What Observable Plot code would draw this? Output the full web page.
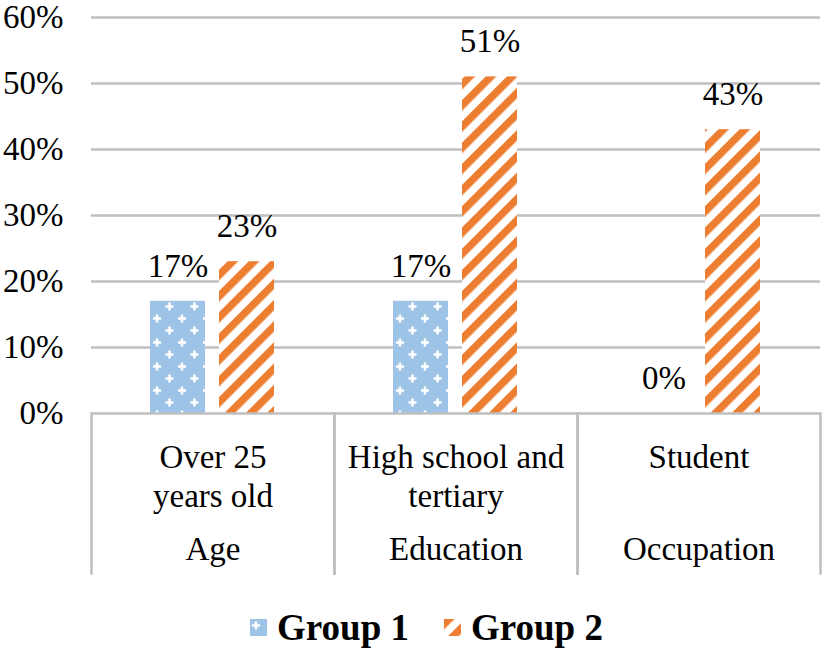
<!DOCTYPE html>
<html>
<head>
<meta charset="utf-8">
<script src="https://cdn.jsdelivr.net/npm/d3@7"></script>
<script src="https://cdn.jsdelivr.net/npm/@observablehq/plot@0.6"></script>
<style>
  html, body { margin: 0; padding: 0; background: #fff; }
  #chart svg, #chart svg text { font-family: "Liberation Serif", "Times New Roman", serif !important; }
  #legend { display: flex; justify-content: center; align-items: center; height: 74px; padding-left: 30px;
    font-family: "Liberation Serif", "Times New Roman", serif; font-weight: bold; font-size: 37px; color: #000; }
  #legend .item { display: flex; align-items: center; }
  #legend svg { margin-right: 10px; }
</style>
</head>
<body>
<svg width="0" height="0" style="position:absolute">
  <defs>
    <pattern id="pat-plus" patternUnits="userSpaceOnUse" width="25" height="24">
      <rect width="25" height="24" fill="#9DC3E6"></rect>
      <path d="M2,6.5h8M6,2.5v8M14.5,18.5h8M18.5,14.5v8" stroke="#fff" stroke-width="2.6" fill="none"></path>
    </pattern>
    <pattern id="pat-diag" patternUnits="userSpaceOnUse" width="15" height="15" patternTransform="rotate(45)">
      <rect width="15" height="15" fill="#fff"></rect>
      <rect width="7.5" height="15" fill="#ED7D31"></rect>
    </pattern>
  </defs>
</svg>
<div id="chart"></div>
<div id="legend"></div>
<script>
const categories = ["Over 25\nyears old", "High school and\ntertiary", "Student"];
const groups = ["Age", "Education", "Occupation"];
const seriesNames = ["Group 1", "Group 2"];
const group1 = [0.17, 0.17, 0.00];
const group2 = [0.23, 0.51, 0.43];
const yTicks = [0, 0.1, 0.2, 0.3, 0.4, 0.5, 0.6];

const rows = categories.flatMap((c, i) => [
  {cat: c, grp: groups[i], series: seriesNames[0], value: group1[i]},
  {cat: c, grp: groups[i], series: seriesNames[1], value: group2[i]}
]);
const cats = categories.map((c, i) => ({cat: c, grp: groups[i]}));
const pct = d3.format(".0%");
const gridColor = "#BFBFBF";

const chart = Plot.plot({
  width: 823,
  height: 590,
  marginLeft: 90,
  marginRight: 2,
  marginTop: 17,
  marginBottom: 177,
  style: {fontFamily: "'Liberation Serif', 'Times New Roman', serif", fontSize: "33px", color: "#000", background: "#fff"},
  fx: {domain: categories, padding: 0, axis: null},
  x: {domain: seriesNames, paddingInner: 0.2, paddingOuter: 0.843, axis: null},
  y: {domain: [0, 0.6], ticks: yTicks, tickFormat: pct, tickSize: 0, tickPadding: 28, label: null},
  marks: [
    Plot.gridY(yTicks.slice(1), {stroke: gridColor, strokeOpacity: 1, strokeWidth: 2.5}),
    Plot.barY(rows.filter(d => d.series === seriesNames[0]), {fx: "cat", x: "series", y: "value", fill: "url(#pat-plus)"}),
    Plot.barY(rows.filter(d => d.series === seriesNames[1]), {fx: "cat", x: "series", y: "value", fill: "url(#pat-diag)"}),
    Plot.ruleY([0], {stroke: gridColor, strokeWidth: 2.5}),
    Plot.frame({anchor: "left", stroke: gridColor, strokeWidth: 2.5, insetTop: 396, insetBottom: -160}),
    Plot.frame({anchor: "right", stroke: gridColor, strokeWidth: 2.5, insetTop: 396, insetBottom: -160}),
    Plot.text(rows, {fx: "cat", x: "series", y: "value", text: d => pct(d.value), dy: -35, fontSize: 33, fill: "#000"}),
    Plot.text(cats, {fx: "cat", text: "cat", frameAnchor: "bottom", lineAnchor: "top", dy: 26, lineHeight: 1.2, fontSize: 33, fill: "#000"}),
    Plot.text(cats, {fx: "cat", text: "grp", frameAnchor: "bottom", lineAnchor: "top", dy: 123, fontSize: 33, fill: "#000"})
  ]
});
document.getElementById("chart").appendChild(chart);

const legend = d3.select("#legend");
[["Group 1", "url(#pat-plus)"], ["Group 2", "url(#pat-diag)"]].forEach(([name, fill], i) => {
  const item = legend.append("div").attr("class", "item").style("margin-left", i ? "35px" : "0px");
  item.append("svg").attr("width", 17).attr("height", 17)
    .append("rect").attr("width", 17).attr("height", 17).attr("fill", fill);
  item.append("span").text(name);
});
</script>
</body>
</html>
